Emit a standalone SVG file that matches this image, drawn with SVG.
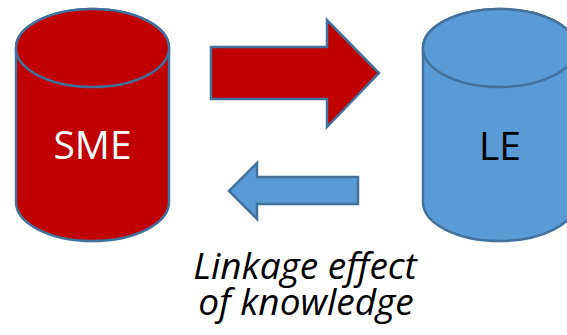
<svg xmlns="http://www.w3.org/2000/svg" width="567" height="335" viewBox="0 0 567 335">
<style>
.cyl{stroke:#41719C;stroke-width:2.5}
.red{fill:#C00000}
.blue{fill:#5B9BD5}
.arr{stroke:#41719C;stroke-width:2.5;stroke-linejoin:miter}
.lbl{font-family:"Open Sans","Noto Sans",sans-serif;font-size:39px;text-anchor:middle}
.cap{font-family:"Open Sans","Noto Sans",sans-serif;font-size:37px;font-style:italic;text-anchor:middle;fill:#000}
</style>
<rect width="567" height="335" fill="#fff"/>
<g id="sme">
<path class="cyl red" d="M16,48 L16,202 A76.5,39 0 0 0 169,202 L169,48 A76.5,39 0 0 0 16,48 Z"/>
<ellipse class="cyl red" cx="92.5" cy="48" rx="76.5" ry="39"/>
<text class="lbl" x="92.5" y="159" fill="#fff">SME</text>
</g>
<g id="le">
<path class="cyl blue" d="M423,48 L423,202 A76.5,39 0 0 0 576,202 L576,48 A76.5,39 0 0 0 423,48 Z"/>
<ellipse class="cyl blue" cx="499.5" cy="48" rx="76.5" ry="39"/>
<text class="lbl" x="500" y="160" fill="#000">LE</text>
</g>
<g id="connectors">
<polygon class="arr red" points="211,47 327,47 327,20 379,73 327,127 327,99 211,99"/>
<polygon class="arr blue" points="358,177 257,177 257,163 229,191 257,219 257,204 358,204"/>
</g>
<g id="caption">
<text class="cap" x="305" y="279">Linkage effect</text>
<text class="cap" x="306" y="315">of knowledge</text>
</g>
</svg>
